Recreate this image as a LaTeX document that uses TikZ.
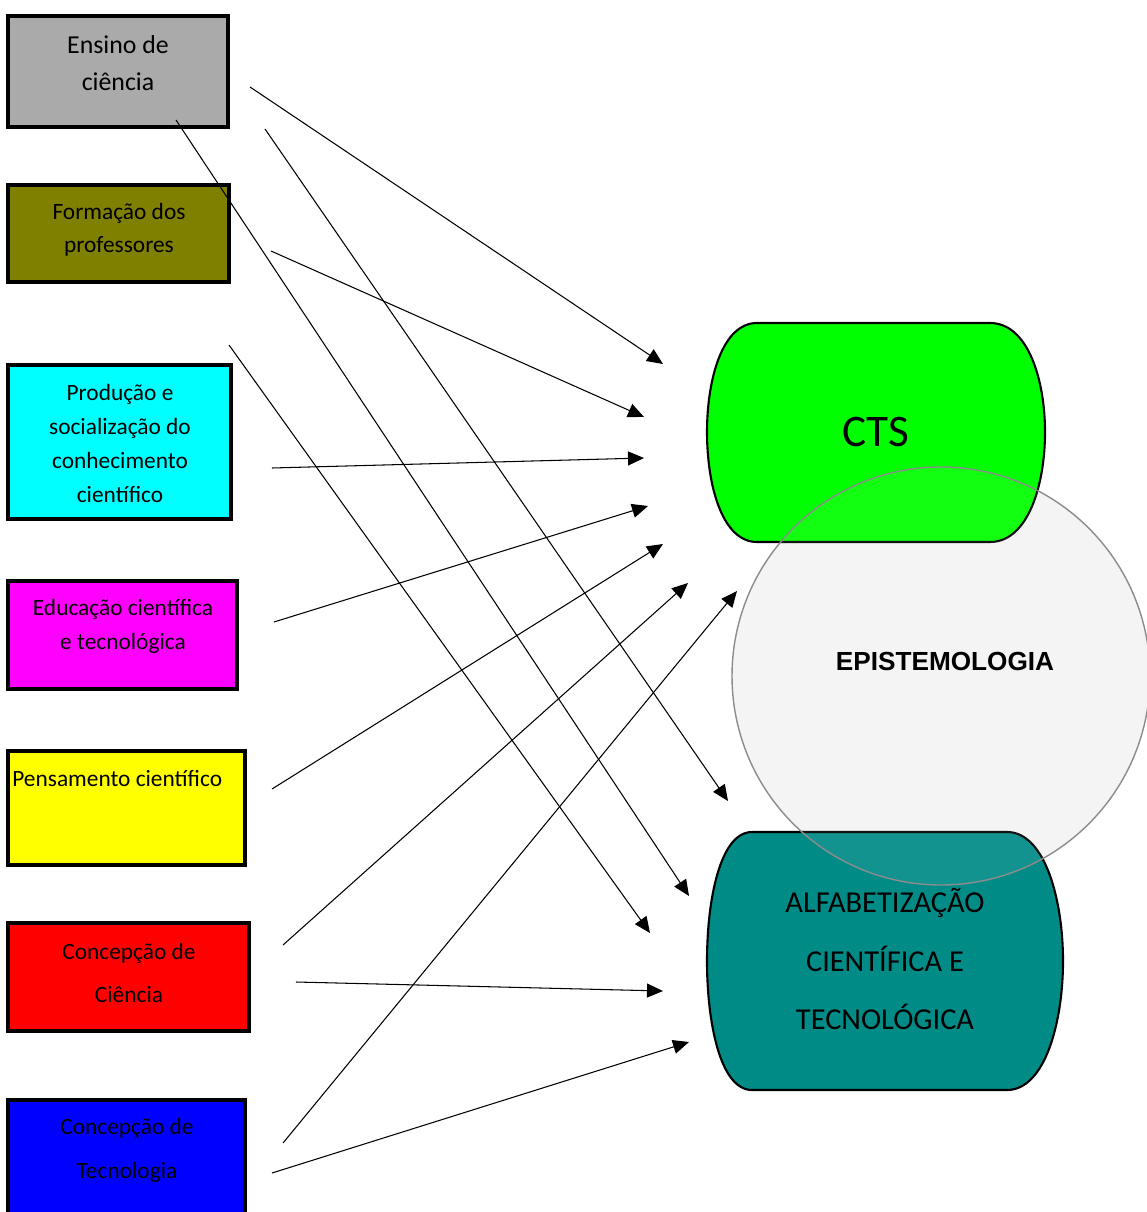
\documentclass[tikz,border=0pt]{standalone}
\usepackage{fontspec}
\setmainfont{Carlito}
\newfontfamily\epifont{Liberation Sans}
\usetikzlibrary{arrows.meta}

\definecolor{boxgray}{HTML}{AAAAAA}
\definecolor{boxolive}{HTML}{808000}
\definecolor{boxcyan}{HTML}{00FFFF}
\definecolor{boxmagenta}{HTML}{FF00FF}
\definecolor{boxyellow}{HTML}{FFFF00}
\definecolor{boxred}{HTML}{FF0000}
\definecolor{boxblue}{HTML}{0000FF}
\definecolor{ctsgreen}{HTML}{00FF00}
\definecolor{alfteal}{HTML}{008B87}
\definecolor{epigray}{HTML}{F4F4F4}

\begin{document}
\begin{tikzpicture}
        [x=0.02cm, y=-0.02cm,
        box/.style={rectangle, draw=black, line width=1.9pt, inner sep=0pt},
        boxtext/.style={align=center, inner sep=0pt, font=\fontsize{13.3}{19.3}\selectfont},
        blob/.style={draw=black, line width=1.2pt},
        arrow/.style={-{Triangle[length=0.32cm, width=0.28cm]}, line width=0.6pt, black}]

        \useasboundingbox (0,0) rectangle (1146,1212);

        % left boxes
        \node[box, fill=boxgray, minimum width=4.4cm, minimum height=2.22cm] (ensino) at (118,71.5) {};
        \node[box, fill=boxolive, minimum width=4.42cm, minimum height=1.94cm] (formacao) at (118.5,233.5) {};
        \node[box, fill=boxcyan, minimum width=4.46cm, minimum height=3.08cm] (producao) at (119.5,442) {};
        \node[box, fill=boxmagenta, minimum width=4.58cm, minimum height=2.16cm] (educacao) at (122.5,635) {};
        \node[box, fill=boxyellow, minimum width=4.74cm, minimum height=2.28cm] (pensamento) at (126.5,808) {};
        \node[box, fill=boxred, minimum width=4.82cm, minimum height=2.16cm] (conccien) at (128.5,977) {};
        \node[box, fill=boxblue, minimum width=4.74cm, minimum height=2.4cm] (conctec) at (126.5,1160) {};

        \node[boxtext, font=\fontsize{14.7}{21}\selectfont] (ensinot) at (118,63.5) {Ensino de\\ciência};
        \node[boxtext, font=\fontsize{13.3}{18.7}\selectfont] (formacaot) at (119,230) {Formação dos\\professores};
        \node[boxtext] (producaot) at (120,443.5) {Produção e\\socialização do\\conhecimento\\científico};
        \node[boxtext] (educacaot) at (123,626) {Educação científica\\e tecnológica};
        \node[boxtext, anchor=west] (pensamentot) at (12,779) {Pensamento científico};
        \node[boxtext, font=\fontsize{13.3}{25}\selectfont] (conccient) at (129,973) {Concepção de\\Ciência};
        \node[boxtext, font=\fontsize{13.3}{25}\selectfont] (conctect) at (127,1150) {Concepção de\\Tecnologia};

        % right side
        \node[circle, fill=epigray, minimum size=8.36cm, inner sep=0pt] (epi) at (941,676) {};

        \draw[blob, fill=ctsgreen] (757,323) -- (990,323)
            .. controls (1028,323) and (1045,380) .. (1045,432)
            .. controls (1045,485) and (1028,542) .. (990,542) -- (757,542)
            .. controls (722,542) and (707,485) .. (707,432)
            .. controls (707,380) and (722,323) .. (757,323) -- cycle;
        \draw[blob, fill=alfteal] (752,832) -- (1007,832)
            .. controls (1045,832) and (1063,900) .. (1063,961)
            .. controls (1063,1022) and (1045,1090) .. (1007,1090) -- (752,1090)
            .. controls (720,1090) and (707,1022) .. (707,961)
            .. controls (707,900) and (720,832) .. (752,832) -- cycle;

        \draw[draw=black!45, line width=0.8pt, fill=white, fill opacity=0.07] (epi) circle (209);

        \node[font=\fontsize{25.7}{30}\selectfont, inner sep=0pt] (cts) at (876,432) {CTS};
        \node[font=\epifont\bfseries\fontsize{14.9}{18}\selectfont, inner sep=0pt] (epit) at (945,661) {EPISTEMOLOGIA};
        \node[align=center, font=\fontsize{17.3}{33.4}\selectfont, inner sep=0pt] (alf) at (885,959)
            {ALFABETIZAÇÃO\\CIENTÍFICA E\\TECNOLÓGICA};

        % arrow ends
        \coordinate (s1) at (250,87);    \coordinate (t1) at (663,364);
        \coordinate (s2) at (265,129);   \coordinate (t2) at (728,801);
        \coordinate (s3) at (176,120);   \coordinate (t3) at (689,896);
        \coordinate (s4) at (271,251);   \coordinate (t4) at (644,417);
        \coordinate (s5) at (229,345);   \coordinate (t5) at (650,933);
        \coordinate (s6) at (272,468);   \coordinate (t6) at (644,458);
        \coordinate (s7) at (274,622);   \coordinate (t7) at (648,506);
        \coordinate (s8) at (272,789);   \coordinate (t8) at (663,544);
        \coordinate (s9) at (283,945);   \coordinate (t9) at (688,583);
        \coordinate (s10) at (283,1143); \coordinate (t10) at (737,591);
        \coordinate (s11) at (296,982);  \coordinate (t11) at (663,991);
        \coordinate (s12) at (272,1173); \coordinate (t12) at (689,1042);

        \draw[arrow] (s1) -- (t1);
        \draw[arrow] (s2) -- (t2);
        \draw[arrow] (s3) -- (t3);
        \draw[arrow] (s4) -- (t4);
        \draw[arrow] (s5) -- (t5);
        \draw[arrow] (s6) -- (t6);
        \draw[arrow] (s7) -- (t7);
        \draw[arrow] (s8) -- (t8);
        \draw[arrow] (s9) -- (t9);
        \draw[arrow] (s10) -- (t10);
        \draw[arrow] (s11) -- (t11);
        \draw[arrow] (s12) -- (t12);

    \end{tikzpicture}
\end{document}
